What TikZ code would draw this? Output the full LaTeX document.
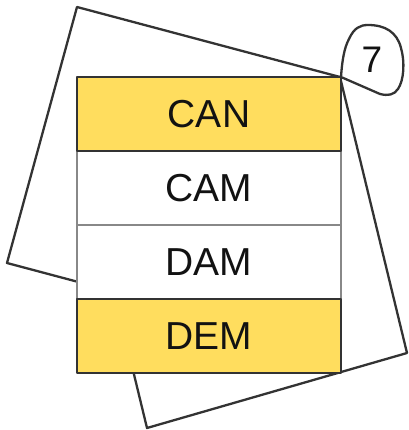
\documentclass[tikz,border=0pt]{standalone}
\usepackage{fontspec}
\setmainfont{Liberation Sans}
\usepackage{tikz}
\usetikzlibrary{calc, positioning}

\definecolor{tileyellow}{RGB}{255,221,94}
\definecolor{tileedge}{RGB}{51,51,51}
\definecolor{tilegray}{RGB}{136,136,136}

\tikzset{
  row/.style={minimum width=264pt, minimum height=74pt, outer sep=0pt, inner sep=0pt,
    font=\fontsize{39}{39}\selectfont, text=black!93},
  yellowrow/.style={row, draw=tileedge, fill=tileyellow},
  whiterow/.style={row, draw=tilegray, fill=white},
}

\begin{document}
\begin{tikzpicture}[x=1pt, y=-1pt, line width=2.3pt, line join=round]
    \useasboundingbox (0, 0) rectangle (408, 430);
    % two tilted squares behind the stack
    \draw[tileedge] (77, 7) -- (340, 77) -- (270, 333) -- (7, 263) -- cycle;
    \draw[tileedge] (340, 77) -- (407, 353) -- (147, 428) -- (80, 152) -- cycle;
    % the stack of words
    \node[whiterow] (cam) at (209, 188) {CAM};
    \node[whiterow, below=0pt of cam] (dam) {DAM};
    \node[yellowrow, above=0pt of cam] (can) {CAN};
    \node[yellowrow, below=0pt of dam] (dem) {DEM};
    % tag with the count
    \coordinate (tag) at (can.north east);
    \draw[tileedge, fill=white] (tag) .. controls (342, 62) and (344, 48) .. (349, 39)
        .. controls (354, 28) and (360, 25) .. (368, 25)
        .. controls (385, 25) and (397, 32) .. (401, 48)
        .. controls (405, 62) and (404, 80) .. (398, 89)
        .. controls (394, 95) and (388, 96) .. (380, 94) -- cycle;
    \node[font=\fontsize{37}{37}\selectfont, text=black!93] (count) at (372, 60) {7};
\end{tikzpicture}
\end{document}
